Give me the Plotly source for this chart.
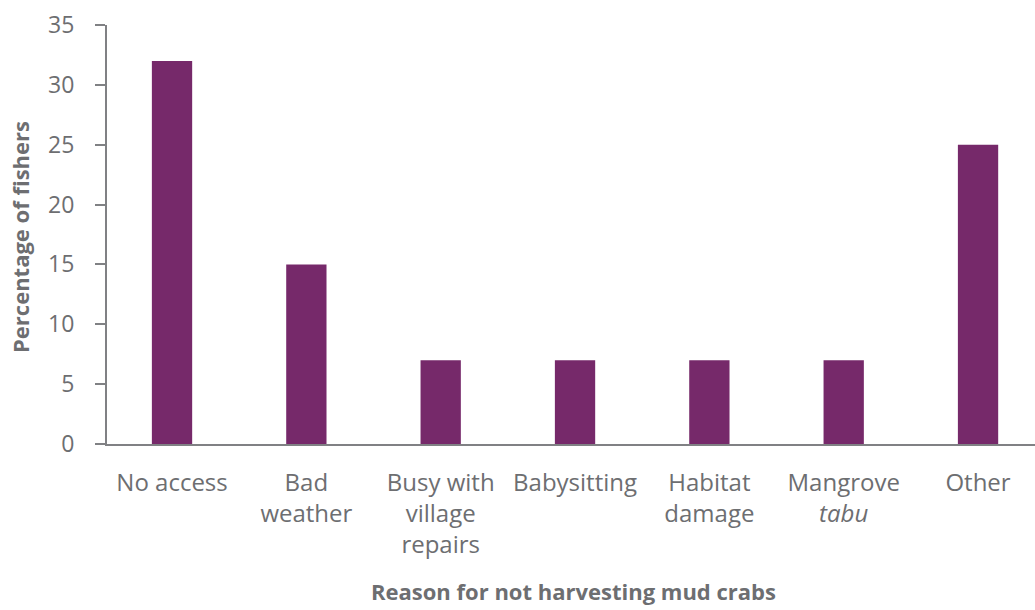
import plotly.graph_objects as go

# Reasons given for not harvesting mud crabs, and share of fishers (%)
categories = [
    "No access",
    "Bad<br>weather",
    "Busy with<br>village<br>repairs",
    "Babysitting",
    "Habitat<br>damage",
    "Mangrove<br><i>tabu</i>",
    "Other",
]
percent_fishers = [32, 15, 7, 7, 7, 7, 25]
y_ticks = [0, 5, 10, 15, 20, 25, 30, 35]

BAR = "#76296a"
TEXT = "#6d6e71"
AXIS = "#808184"
FONT = "Open Sans"

fig = go.Figure(
    go.Bar(
        x=list(range(len(categories))),
        y=percent_fishers,
        width=0.3,
        marker=dict(color=BAR, line=dict(width=0)),
        hoverinfo="skip",
    )
)

fig.update_layout(
    width=1035,
    height=610,
    margin=dict(l=107, r=0, t=25, b=166),
    paper_bgcolor="white",
    plot_bgcolor="white",
    showlegend=False,
    font=dict(family=FONT, size=24, color=TEXT),
    xaxis=dict(
        tickmode="array",
        tickvals=list(range(len(categories))),
        ticktext=categories,
        range=[-0.484, 6.424],
        showgrid=False,
        zeroline=False,
        showline=True,
        linecolor=AXIS,
        linewidth=2,
        ticks="",
        ticklabelstandoff=16,
        tickfont=dict(family=FONT, size=24, color=TEXT),
    ),
    yaxis=dict(
        range=[0, 35],
        tickmode="array",
        tickvals=y_ticks,
        showgrid=False,
        zeroline=False,
        showline=True,
        linecolor=AXIS,
        linewidth=2,
        ticks="outside",
        ticklen=10,
        tickwidth=2,
        tickcolor=AXIS,
        ticklabelstandoff=16,
        tickfont=dict(family=FONT, size=23, color=TEXT),
    ),
    annotations=[
        dict(
            text="<b>Reason for not harvesting mud crabs</b>",
            xref="paper", yref="paper",
            x=0.503, y=-0.352,
            xanchor="center", yanchor="middle",
            showarrow=False,
            font=dict(family=FONT, size=22, color=TEXT),
        ),
        dict(
            text="<b>Percentage of fishers</b>",
            xref="paper", yref="paper",
            x=-0.0938, y=0.494,
            xanchor="center", yanchor="middle",
            textangle=-90,
            showarrow=False,
            font=dict(family=FONT, size=22, color=TEXT),
        ),
    ],
)

fig.write_html("out.html")
